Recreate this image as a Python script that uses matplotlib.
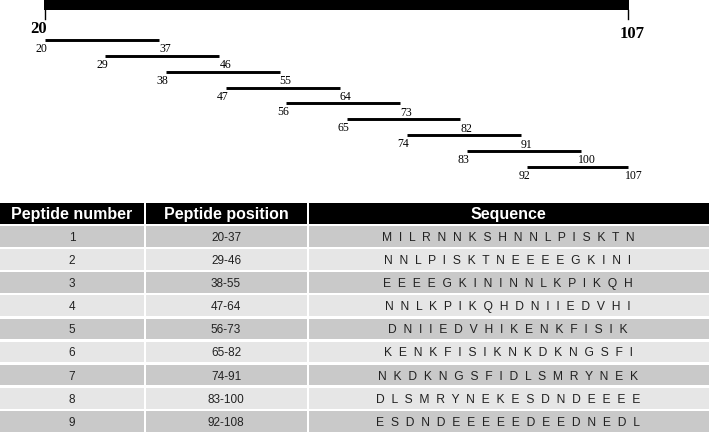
import matplotlib.pyplot as plt
from matplotlib.patches import Rectangle

# protein span shown on the top bar
span_start, span_end = 20, 107

# overlapping peptides (start, end) as drawn in the map
pep_start = [20, 29, 38, 47, 56, 65, 74, 83, 92]
pep_end = [37, 46, 55, 64, 73, 82, 91, 100, 107]

# table contents
col_headers = ["Peptide number", "Peptide position", "Sequence"]
pep_number = ["1", "2", "3", "4", "5", "6", "7", "8", "9"]
pep_position = ["20-37", "29-46", "38-55", "47-64", "56-73",
                "65-82", "74-91", "83-100", "92-108"]
pep_sequence = ["MILRNNKSHNNLPISKTN", "NNLPISKTNEEEEGKINI",
                "EEEEGKININNLKPIKQH", "NNLKPIKQHDNIIEDVHI",
                "DNIIEDVHIKENKFISIK", "KENKFISIKNKDKNGSFI",
                "NKDKNGSFIDLSMRYNEK", "DLSMRYNEKESDNDEEEE",
                "ESDNDEEEEEDEEDNEDL"]

W, H = 709, 435
fig = plt.figure(figsize=(W / 100, H / 100), dpi=100)

serif = "Liberation Serif"
sans = "Liberation Sans"

# ---- peptide map ----
px_per_res = 6.7
x0 = span_start - 45 / px_per_res
top_h = 195
ax = fig.add_axes([0, 1 - top_h / H, 1, top_h / H])
ax.set_xlim(x0, x0 + W / px_per_res)
ax.set_ylim(top_h, 0)
ax.axis("off")

ax.fill_between([span_start - 0.1, span_end + 0.15], 0, 11, color="black", lw=0)
for v in (span_start, span_end):
    ax.plot([v, v], [11, 20], color="black", lw=1)
ax.text(span_start - 1.0, 29, str(span_start), fontfamily=serif, fontweight="bold",
        fontsize=12, ha="center", va="center")
ax.text(span_end + 0.6, 34, str(span_end), fontfamily=serif, fontweight="bold",
        fontsize=12, ha="center", va="center")

for i, (s, e) in enumerate(zip(pep_start, pep_end)):
    y = 41 + i * 15.85
    ax.plot([s, e], [y, y], color="black", lw=2.1, solid_capstyle="butt")
    ax.text(s - 0.5, y + 8, str(s), fontfamily=serif, fontsize=8.5,
            ha="center", va="center")
    ax.text(e + 0.9, y + 8.5, str(e), fontfamily=serif, fontsize=8.5,
            ha="center", va="center")

# ---- table ----
tab_top = 204
tax = fig.add_axes([0, 0, 1, (H - tab_top) / H])
nrows = len(pep_number) + 1
tax.set_xlim(0, W)
tax.set_ylim(nrows, 0)
tax.axis("off")

col_left = [0, 146, 309]
col_right = [144, 307, W]
col_center = [72, 226, 508]
gap = 0.1

for c in range(3):
    tax.add_patch(Rectangle((col_left[c], 0), col_right[c] - col_left[c], 1 - gap,
                            color="black", lw=0))
    tax.text(col_center[c], (1 - gap) / 2, col_headers[c], color="white",
             fontfamily=sans, fontweight="bold", fontsize=11.5,
             ha="center", va="center")

for r in range(len(pep_number)):
    top = r + 1
    shade = "#c9c9c9" if r % 2 == 0 else "#e6e6e6"
    cells = [pep_number[r], pep_position[r], "  ".join(pep_sequence[r])]
    for c in range(3):
        tax.add_patch(Rectangle((col_left[c], top), col_right[c] - col_left[c], 1 - gap,
                                color=shade, lw=0))
        tax.text(col_center[c], top + (1 - gap) / 2 + 0.02, cells[c], color="#222222",
                 fontfamily=sans, fontsize=8.7 if c == 2 else 8.5,
                 ha="center", va="center")

fig.savefig("out.png", dpi=100)
